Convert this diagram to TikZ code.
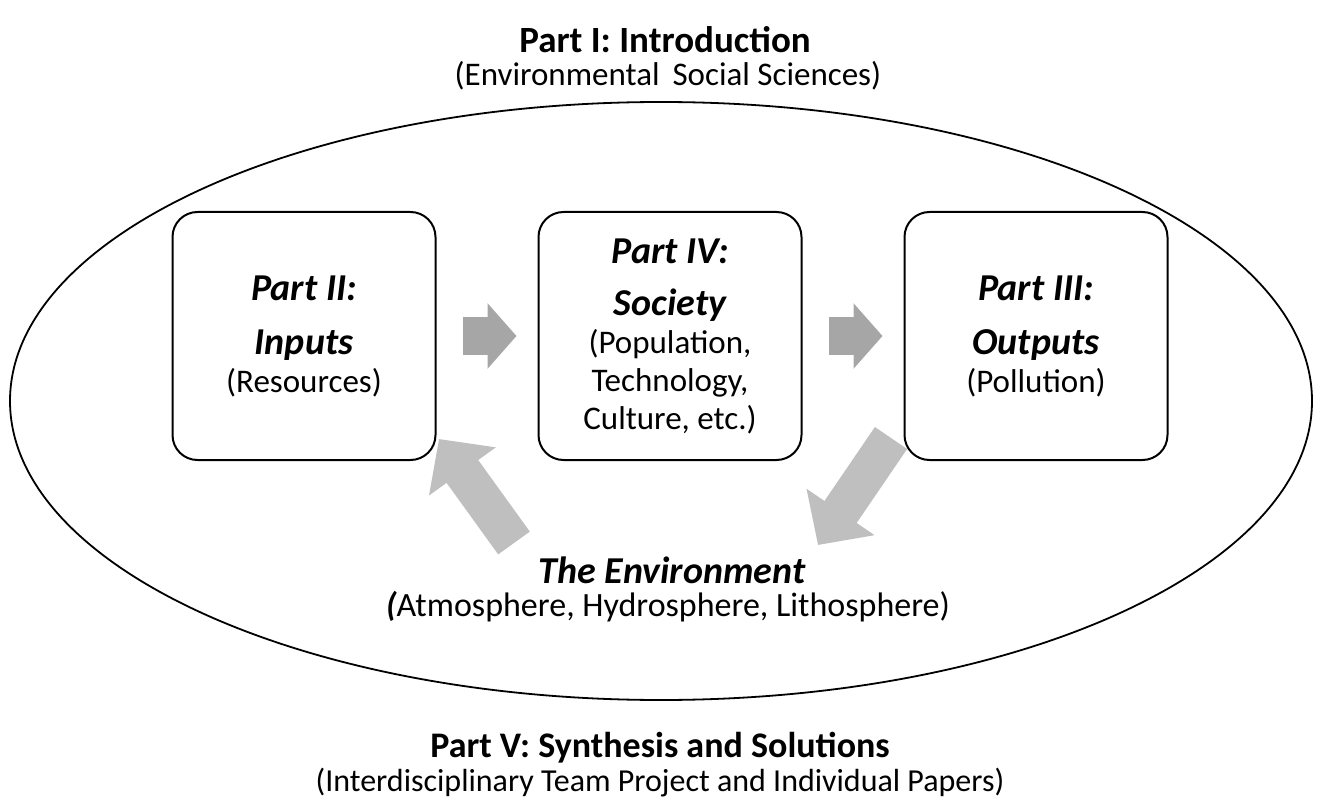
\documentclass[tikz,border=0pt]{standalone}
\usepackage{fontspec}
\setmainfont{Carlito}
\usetikzlibrary{arrows.meta, positioning}

\newcommand{\regfont}{\fontsize{33}{38}\selectfont}
\newcommand{\headfont}{\fontsize{37}{42}\selectfont}
\newcommand{\boxhead}{\fontsize{38}{42}\selectfont\bfseries\itshape}

\begin{document}
\begin{tikzpicture}[
        x=1pt, y=-1pt,
        part/.style={rectangle, rounded corners=25pt, draw, line width=2pt, fill=white,
          minimum width=263pt, minimum height=248pt, align=center, font=\regfont},
        heading/.style={font=\headfont\bfseries, inner sep=0pt},
        sub/.style={font=\regfont, inner sep=0pt},
        flow/.style={draw=black!35, line width=38pt, -{Triangle[length=29pt, width=64pt]}},
        back/.style={draw=black!25, line width=39pt, -{Triangle[length=40pt, width=80pt]}}
      ]
      \useasboundingbox (0,0) rectangle (1319,810);

      % outer ellipse
      \draw[line width=1.8pt] (661,401) ellipse [x radius=651, y radius=299];

      \node (intro) [heading] at (665,40) {Part I: Introduction};
      \node (introsub) [sub] at (668,76) {(Environmental\, Social Sciences)};

      \node (inputs) [part] at (304,336)
        {{\boxhead Part II:}\\[16pt]{\boxhead Inputs}\\(Resources)};
      \node (society) [part] at (670,336)
        {{\boxhead Part IV:}\\[14pt]{\boxhead Society}\\(Population,\\Technology,\\Culture, etc.)};
      \node (outputs) [part] at (1036,336)
        {{\boxhead Part III:}\\[16pt]{\boxhead Outputs}\\(Pollution)};

      \node (env) [heading, font=\fontsize{38}{42}\selectfont\bfseries\itshape] at (672,570) {The Environment};
      \node (envsub) [sub, font=\fontsize{34}{40}\selectfont] at (668,607) {{\bfseries\itshape(}Atmosphere, Hydrosphere, Lithosphere)};

      \node (synth) [heading, font=\fontsize{36}{42}\selectfont\bfseries] at (660,748) {Part V: Synthesis and Solutions};
      \node (synthsub) [sub, font=\fontsize{32}{38}\selectfont] at (660,783) {(Interdisciplinary Team Project and Individual Papers)};

      % flow arrows
      \draw[flow, shorten <=26pt, shorten >=21pt] (inputs.east) -- (society.west);
      \draw[flow, shorten <=26pt, shorten >=21pt] (society.east) -- (outputs.west);

      \coordinate (envfrom) at (514,543);
      \coordinate (inputsto) at (439,439);
      \coordinate (outputsfrom) at (891,438);
      \coordinate (envto) at (818,545);
      \draw[back] (envfrom) -- (inputsto);
      \draw[back] (outputsfrom) -- (envto);
    \end{tikzpicture}
\end{document}
